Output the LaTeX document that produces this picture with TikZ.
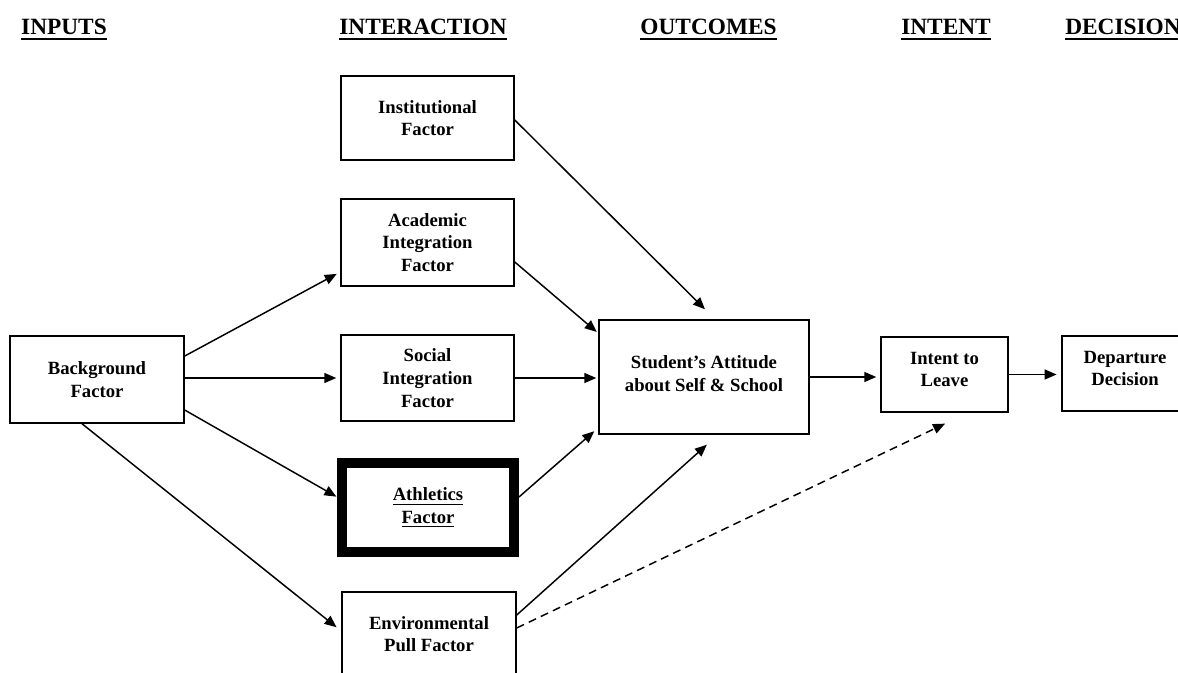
\documentclass[tikz,border=0pt]{standalone}
\usepackage{fontspec}
\setmainfont{Liberation Serif}
\usetikzlibrary{arrows.meta,calc}
\newcommand\hdrul[1]{\setbox0\hbox{#1}\rlap{\vrule width\wd0 height -2.4pt depth 4.0pt}\box0}
\newcommand\boxul[1]{\setbox0\hbox{#1}\rlap{\vrule width\wd0 height -2.2pt depth 3.1pt}\box0}
\begin{document}
\begin{tikzpicture}[x=0.75pt,y=-0.75pt,
  box/.style={draw, line width=1.1pt, font=\bfseries\fontsize{14}{17}\selectfont, align=center, inner sep=0pt},
  hdr/.style={font=\bfseries\fontsize{17.5}{20}\selectfont, inner sep=0pt, anchor=base},
  arr/.style={line width=1.1pt, -{Triangle[length=9pt,width=7.5pt]}},
  dsh/.style={dash pattern=on 6pt off 4pt}]
\useasboundingbox (0,0) rectangle (1178,673);
% headers
\node[hdr] (h1) at (64,35) {\hdrul{INPUTS}};
\node[hdr] (h2) at (423,35) {\hdrul{INTERACTION}};
\node[hdr] (h3) at (708.5,35) {\hdrul{OUTCOMES}};
\node[hdr] (h4) at (946,35) {\hdrul{INTENT}};
\node[hdr, anchor=base west] (h5) at (1065,35) {\hdrul{DECISION}};
% boxes
\node[box, minimum width=130.5pt, minimum height=65.25pt] (bg) at (97,379.5) {Background\\Factor};
\node[box, minimum width=129.75pt, minimum height=63pt] (inst) at (427.5,118) {Institutional\\Factor};
\node[box, minimum width=129.75pt, minimum height=65.25pt] (ac) at (427.5,242.5) {Academic\\Integration\\Factor};
\node[box, minimum width=129.75pt, minimum height=64.5pt] (so) at (427.5,378) {Social\\Integration\\Factor};
\node[box, line width=7.5pt, minimum width=129pt, minimum height=66.75pt] (at) at (428,507.5) {\boxul{Athletics}\\\boxul{Factor}};
\node[box, minimum width=130.5pt, minimum height=63pt] (env) at (429,634) {Environmental\\Pull Factor};
\node[box, minimum width=157.5pt, minimum height=85.5pt, text depth=5.5pt] (st) at (704,377) {Student's Attitude\\about Self \& School};
\node[box, minimum width=95.25pt, minimum height=56.25pt, text depth=7.5pt] (int) at (944.5,374.5) {Intent to\\Leave};
\node[box, minimum width=94.5pt, minimum height=56.25pt, text depth=7.5pt] (dep) at (1125,373.5) {Departure\\Decision};
% connectors
\draw[arr, shorten >=3pt] ([yshift=17.6pt]bg.east) -- ([yshift=-22.1pt]ac.west);
\draw[arr, shorten >=3pt] (bg.east |- so.west) -- (so.west);
\draw[arr, shorten >=0.5pt] ([yshift=-22.9pt]bg.east) -- ([yshift=7.9pt]at.west);
\draw[arr, shorten >=4.5pt] ([xshift=-11.25pt]bg.south) -- ([yshift=2.25pt]env.west);
\draw[arr, shorten >=10.6pt] ([yshift=-1.5pt]inst.east) -- ([xshift=8.25pt]st.north);
\draw[arr, shorten >=1.5pt] ([yshift=-14.6pt]ac.east) -- ([yshift=-10.5pt]st.north west);
\draw[arr, shorten >=1.5pt] (so.east) -- (so.east -| st.west);
\draw[arr, shorten >=4pt] ([yshift=7.9pt]at.east) -- ([yshift=5.25pt]st.south west);
\draw[arr, shorten >=11.2pt] ([yshift=14.25pt]env.east) -- ([xshift=10.5pt]st.south);
\draw[arr, dsh, shorten >=19pt] ([yshift=4.5pt]env.east) -- ([xshift=17.6pt]int.south);
\draw[arr, shorten >=3pt] (st.east) -- (st.east -| int.west);
\draw[arr, shorten >=3.5pt] (int.east) -- (int.east -| dep.west);
\end{tikzpicture}
\end{document}
